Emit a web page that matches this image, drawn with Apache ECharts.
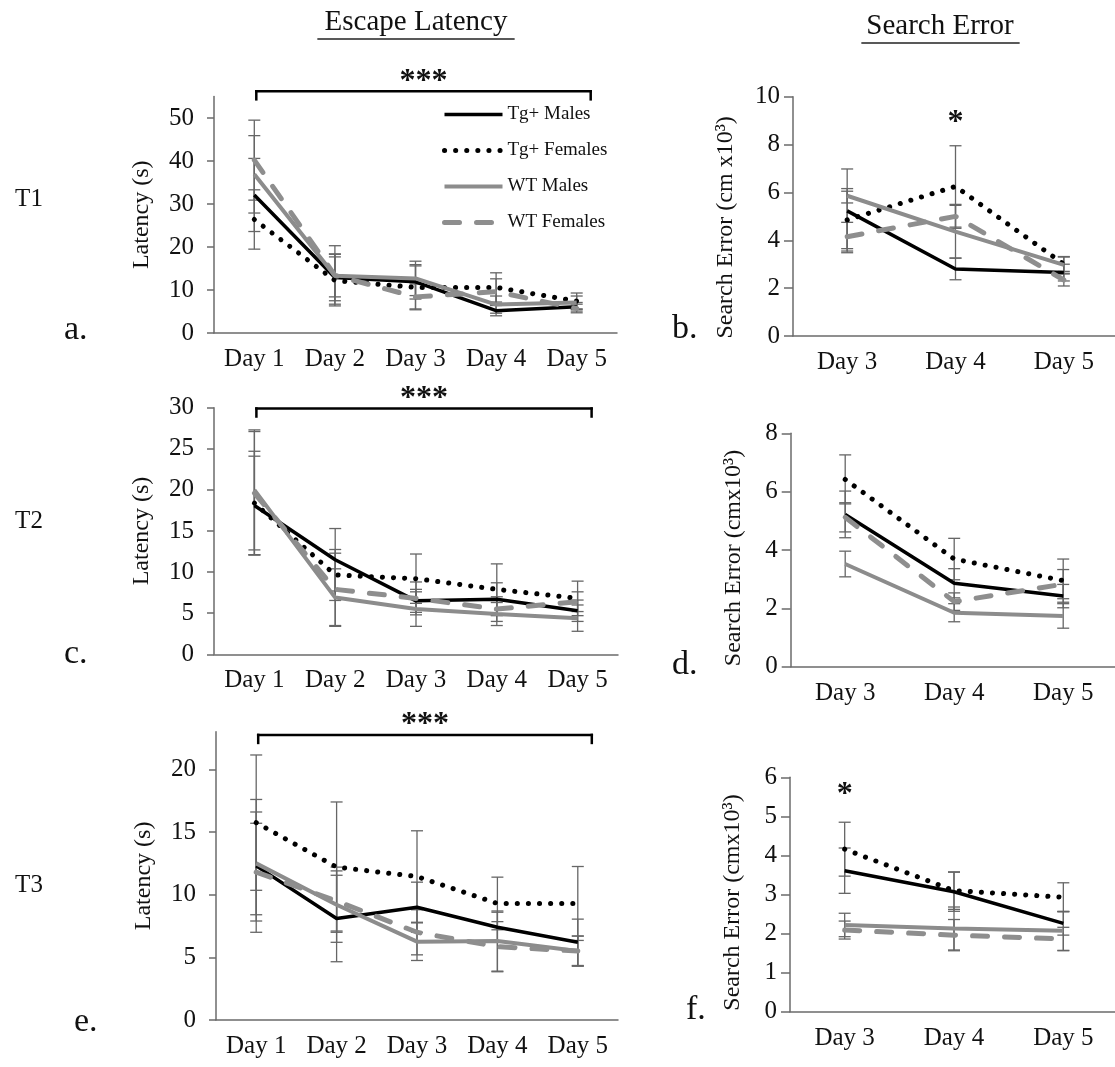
<!DOCTYPE html>
<html>
<head>
<meta charset="utf-8">
<script src="https://cdn.jsdelivr.net/npm/echarts@6/dist/echarts.min.js"></script>
<style>
  html, body { margin: 0; padding: 0; background: #fff; }
  #chart { width: 1115px; height: 1067px; }
</style>
</head>
<body>
<div id="chart"></div>
<script>
// categories
var daysLeft = ['Day 1', 'Day 2', 'Day 3', 'Day 4', 'Day 5'];
var daysRight = ['Day 3', 'Day 4', 'Day 5'];
var groups = ['Tg+ Males', 'Tg+ Females', 'WT Males', 'WT Females'];

// a. T1 escape latency (s)
var aTgM = [32.1, 12.9, 11.9, 5.2, 6.1];
var aTgF = [26.4, 12.2, 10.6, 10.6, 7.4];
var aWTM = [36.9, 13.3, 12.7, 6.6, 7.1];
var aWTF = [40.2, 13.4, 8.4, 9.6, 5.7];
var aTgMErr = [8.5, 5.4, 4.0, 1.2, 1.0];
var aTgFErr = [6.9, 5.5, 5.0, 3.4, 1.9];
var aWTMErr = [9.0, 7.0, 4.0, 2.0, 1.5];
var aWTFErr = [9.3, 5.0, 3.0, 3.0, 1.0];

// b. T1 search error (cm x10^3)
var bTgM = [5.23, 2.8, 2.65];
var bTgF = [4.85, 6.25, 3.0];
var bWTM = [5.86, 4.36, 2.97];
var bWTF = [4.15, 5.0, 2.34];
var bTgMErr = [1.75, 0.45, 0.35];
var bTgFErr = [1.2, 1.7, 0.3];
var bWTMErr = [0.3, 1.1, 0.35];
var bWTFErr = [0.6, 0.5, 0.25];

// c. T2 escape latency
var cTgM = [18.1, 11.5, 6.5, 6.7, 5.3];
var cTgF = [18.4, 9.65, 9.2, 7.9, 6.8];
var cWTM = [20.0, 6.9, 5.5, 4.9, 4.4];
var cWTF = [19.6, 7.9, 6.8, 5.5, 6.4];
var cTgMErr = [6.0, 3.8, 1.4, 2.0, 1.3];
var cTgFErr = [6.3, 3.1, 3.0, 3.1, 2.1];
var cWTMErr = [7.3, 3.5, 2.1, 1.4, 1.6];
var cWTFErr = [7.5, 4.4, 2.0, 1.5, 1.2];

// d. T2 search error
var dTgM = [5.22, 2.86, 2.42];
var dTgF = [6.42, 3.69, 2.95];
var dWTM = [3.52, 1.85, 1.74];
var dWTF = [5.12, 2.23, 2.83];
var dTgMErr = [0.8, 0.5, 0.4];
var dTgFErr = [0.84, 0.71, 0.74];
var dWTMErr = [0.44, 0.31, 0.42];
var dWTFErr = [0.5, 0.3, 0.5];

// e. T3 escape latency
var eTgM = [12.3, 8.1, 9.0, 7.4, 6.2];
var eTgF = [15.75, 12.2, 11.45, 9.3, 9.3];
var eWTM = [12.5, 9.2, 6.25, 6.3, 5.5];
var eWTF = [11.8, 9.5, 7.0, 5.85, 5.5];
var eTgMErr = [5.3, 3.45, 2.0, 1.2, 1.85];
var eTgFErr = [5.4, 5.2, 3.65, 2.1, 2.95];
var eWTMErr = [4.1, 3.0, 1.5, 2.4, 1.2];
var eWTFErr = [3.9, 2.4, 1.8, 2.0, 1.2];

// f. T3 search error
var fTgM = [3.61, 3.07, 2.26];
var fTgF = [4.16, 3.1, 2.93];
var fWTM = [2.22, 2.13, 2.07];
var fWTF = [2.09, 1.96, 1.86];
var fTgMErr = [0.58, 0.5, 0.3];
var fTgFErr = [0.69, 0.48, 0.37];
var fWTMErr = [0.3, 0.55, 0.5];
var fWTFErr = [0.23, 0.4, 0.3];

// y tick labels
var ticksA = [0, 10, 20, 30, 40, 50];
var ticksB = [0, 2, 4, 6, 8, 10];
var ticksC = [0, 5, 10, 15, 20, 25, 30];
var ticksD = [0, 2, 4, 6, 8];
var ticksE = [0, 5, 10, 15, 20];
var ticksF = [0, 1, 2, 3, 4, 5, 6];

var FONT = 'Liberation Serif';
var AXIS_GRAY = '#6b6b6b';
var ERR_GRAY = '#666';

var lineStyles = [
    { color: '#000', width: 3.5, type: 'solid' },
    { color: '#000', width: 5, type: [0.1, 11], cap: 'round' },
    { color: '#8c8c8c', width: 4, type: 'solid' },
    { color: '#8e8e8e', width: 5, type: [15, 17], cap: 'round' }
];

var panels = [
    { cats: daysLeft, vals: [aTgM, aTgF, aWTM, aWTF], errs: [aTgMErr, aTgFErr, aWTMErr, aWTFErr],
      ticks: ticksA, max: 55, name: 'Latency (s)', nameGap: 60, namePad: 0,
      grid: { left: 214, top: 96.5, width: 403, height: 236.5 }, tickLen: 7, labelMargin: 20,
      bracket: 56.2, letter: 'a.', lx: 64, ly: 340 },
    { cats: daysRight, vals: [bTgM, bTgF, bWTM, bWTF], errs: [bTgMErr, bTgFErr, bWTMErr, bWTFErr],
      ticks: ticksB, max: 10, name: 'Search Error (cm x10³)', nameGap: 55, namePad: 22,
      grid: { left: 793, top: 96.7, width: 325, height: 239.3 }, tickLen: 9, labelMargin: 13,
      star: { cat: 1, val: 8.9 }, letter: 'b.', lx: 672, ly: 339 },
    { cats: daysLeft, vals: [cTgM, cTgF, cWTM, cWTF], errs: [cTgMErr, cTgFErr, cWTMErr, cWTFErr],
      ticks: ticksC, max: 30, name: 'Latency (s)', nameGap: 60, namePad: 0,
      grid: { left: 214, top: 407.7, width: 404, height: 246.6 }, tickLen: 7, labelMargin: 20,
      bracket: 29.9, letter: 'c.', lx: 64, ly: 664 },
    { cats: daysRight, vals: [dTgM, dTgF, dWTM, dWTF], errs: [dTgMErr, dTgFErr, dWTMErr, dWTFErr],
      ticks: ticksD, max: 8, name: 'Search Error (cmx10³)', nameGap: 45, namePad: 16,
      grid: { left: 790.7, top: 433.3, width: 327, height: 233.4 }, tickLen: 9, labelMargin: 13,
      letter: 'd.', lx: 672, ly: 675 },
    { cats: daysLeft, vals: [eTgM, eTgF, eWTM, eWTF], errs: [eTgMErr, eTgFErr, eWTMErr, eWTFErr],
      ticks: ticksE, max: 23, name: 'Latency (s)', nameGap: 60, namePad: 0,
      grid: { left: 216, top: 731.8, width: 402, height: 288.2 }, tickLen: 7, labelMargin: 20,
      bracket: 22.75, letter: 'e.', lx: 74, ly: 1032 },
    { cats: daysRight, vals: [fTgM, fTgF, fWTM, fWTF], errs: [fTgMErr, fTgFErr, fWTMErr, fWTFErr],
      ticks: ticksF, max: 6, name: 'Search Error (cmx10³)', nameGap: 45, namePad: 16,
      grid: { left: 790, top: 777.3, width: 328, height: 234.4 }, tickLen: 9, labelMargin: 13,
      star: { cat: 0, val: 5.55 }, letter: 'f.', lx: 686, ly: 1020 }
];

var grids = [], xAxes = [], yAxes = [], series = [];

panels.forEach(function (p, k) {
    grids.push(Object.assign({ outerBoundsMode: 'none', containLabel: false }, p.grid));
    xAxes.push({
        type: 'category', gridIndex: k, data: p.cats, boundaryGap: true,
        axisLine: { lineStyle: { color: AXIS_GRAY, width: 1.5 } },
        axisTick: { alignWithLabel: true, length: 6, lineStyle: { color: AXIS_GRAY, width: 1.5 } },
        axisLabel: { color: '#111', fontFamily: FONT, fontSize: 25, margin: 14, interval: 0 }
    });
    yAxes.push({
        type: 'value', gridIndex: k, min: 0, max: p.max, interval: p.ticks[1] - p.ticks[0],
        name: p.name, nameLocation: 'middle', nameGap: p.nameGap,
        nameTextStyle: { color: '#111', fontFamily: FONT, fontSize: 24, padding: [0, p.namePad, 0, 0] },
        splitLine: { show: false },
        axisLine: { show: true, lineStyle: { color: AXIS_GRAY, width: 1.5 } },
        axisTick: { show: true, length: p.tickLen, customValues: p.ticks, lineStyle: { color: AXIS_GRAY, width: 1.5 } },
        axisLabel: { color: '#111', fontFamily: FONT, fontSize: 25, margin: p.labelMargin, customValues: p.ticks,
            formatter: function (v) { return p.ticks.indexOf(v) >= 0 ? String(v) : ''; } }
    });
    // error bars first, below the lines
    p.vals.forEach(function (vals, g) {
        series.push({
            type: 'custom', xAxisIndex: k, yAxisIndex: k, z: 1, silent: true,
            data: vals.map(function (v, i) { return [i, v, p.errs[g][i]]; }),
            encode: { x: 0, y: 1 },
            renderItem: function (params, api) {
                var i = api.value(0), v = api.value(1), e = api.value(2);
                var hi = api.coord([i, v + e]), lo = api.coord([i, v - e]);
                var w = 6;
                var st = { stroke: ERR_GRAY, lineWidth: 1.3 };
                return { type: 'group', children: [
                    { type: 'line', shape: { x1: hi[0], y1: hi[1], x2: lo[0], y2: lo[1] }, style: st },
                    { type: 'line', shape: { x1: hi[0] - w, y1: hi[1], x2: hi[0] + w, y2: hi[1] }, style: st },
                    { type: 'line', shape: { x1: lo[0] - w, y1: lo[1], x2: lo[0] + w, y2: lo[1] }, style: st }
                ] };
            }
        });
    });
    p.vals.forEach(function (vals, g) {
        series.push({
            type: 'line', name: groups[g], xAxisIndex: k, yAxisIndex: k, z: 2 + g,
            data: vals, symbol: 'none', smooth: false, silent: true,
            lineStyle: lineStyles[g], itemStyle: { color: lineStyles[g].color }
        });
    });
});

var chart = echarts.init(document.getElementById('chart'), null, { renderer: 'canvas' });
chart.setOption({
    backgroundColor: '#fff',
    animation: false,
    grid: grids,
    xAxis: xAxes,
    yAxis: yAxes,
    legend: {
        data: groups.map(function (g, i) {
            return { name: g, itemStyle: { opacity: 0 }, lineStyle: lineStyles[i] };
        }),
        orient: 'vertical', left: 437, top: 100,
        itemWidth: 58, itemHeight: 14, itemGap: 17,
        selectedMode: false,
        textStyle: { color: '#111', fontFamily: FONT, fontSize: 19 }
    },
    series: series
});

// annotations: brackets, stars, titles, panel letters
var graphics = [];
function txt(x, y, s, size, align, vAlign, weight) {
    graphics.push({ type: 'text', x: x, y: y, silent: true,
        style: { text: s, fontFamily: FONT, fontSize: size, fontWeight: weight || 'normal', fill: '#111',
            align: align || 'left', verticalAlign: vAlign || 'bottom' } });
}
function seg(x1, y1, x2, y2, w, c) {
    graphics.push({ type: 'line', silent: true, shape: { x1: x1, y1: y1, x2: x2, y2: y2 },
        style: { stroke: c || '#000', lineWidth: w, lineCap: 'square' } });
}

panels.forEach(function (p, k) {
    var finder = { xAxisIndex: k, yAxisIndex: k };
    if (p.bracket !== undefined) {
        var l = chart.convertToPixel(finder, [p.cats[0], p.bracket]);
        var r = chart.convertToPixel(finder, [p.cats[p.cats.length - 1], p.bracket]);
        var x1 = l[0] + 2, x2 = r[0] + 14, y = l[1];
        seg(x1, y, x2, y, 2.5);
        seg(x1, y, x1, y + 8, 2.5);
        seg(x2, y, x2, y + 8, 2.5);
        txt((x1 + x2) / 2, y - 10, '***', 32, 'center', 'middle', 'bold');
    }
    if (p.star) {
        var s = chart.convertToPixel(finder, [p.cats[p.star.cat], p.star.val]);
        txt(s[0], s[1], '*', 32, 'center', 'middle', 'bold');
    }
    txt(p.lx, p.ly + 7, p.letter, 34, 'left', 'bottom');
});

txt(29, 199, 'T1', 25, 'center', 'middle');
txt(29, 521, 'T2', 25, 'center', 'middle');
txt(29, 885, 'T3', 25, 'center', 'middle');

txt(416, 22, 'Escape Latency', 29, 'center', 'middle');
seg(318, 39, 514, 39, 1.3, '#222');
txt(940, 26, 'Search Error', 29, 'center', 'middle');
seg(862, 43, 1019, 43, 1.3, '#222');

chart.setOption({ graphic: graphics });
</script>
</body>
</html>
